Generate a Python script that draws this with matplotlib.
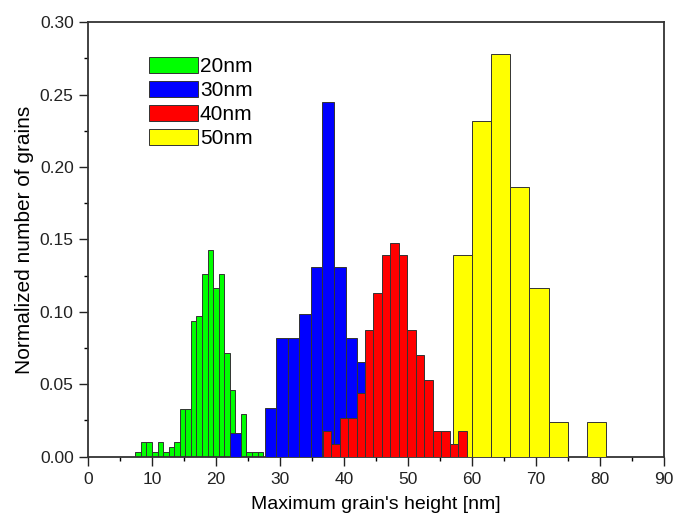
import numpy as np
import matplotlib
matplotlib.use("Agg")
import matplotlib.pyplot as plt
from matplotlib.ticker import MultipleLocator, FormatStrFormatter

plt.rcParams['font.family'] = ['Liberation Sans', 'DejaVu Sans']

# ---- data (normalized histograms) ----
green_start, green_width = 7.35, 0.869
green_vals = [0.0034, 0.0098, 0.0098, 0.0034, 0.0098, 0.0034, 0.0066, 0.0098,
              0.0327, 0.0327, 0.0939, 0.0973, 0.1260, 0.1426, 0.1163, 0.1260,
              0.0714, 0.0458, 0.0100, 0.0293, 0.0034, 0.0034, 0.0034]

blue_start, blue_width = 22.15, 1.81
blue_vals = [0.0165, 0.0, 0.0, 0.0334, 0.0820, 0.0820, 0.0982, 0.1307,
             0.2450, 0.1307, 0.0820, 0.0655]

red_start, red_width = 36.66, 1.325
red_vals = [0.0179, 0.0089, 0.0263, 0.0263, 0.0437, 0.0872, 0.1133, 0.1390,
            0.1477, 0.1390, 0.0872, 0.0700, 0.0527, 0.0179, 0.0179, 0.0089,
            0.0179]

yellow_start, yellow_width = 57.0, 3.0
yellow_vals = [0.139, 0.232, 0.278, 0.186, 0.1163, 0.0236, 0.0, 0.0236]

labels = ['20nm', '30nm', '40nm', '50nm']
colors = ['#00ff00', '#0000ff', '#ff0000', '#ffff00']

fig = plt.figure(figsize=(6.74, 5.16), dpi=100)
ax = fig.add_axes([0.131, 0.1153, 0.8537, 0.8415])

series = [
    (green_start, green_width, green_vals, 2),
    (blue_start, blue_width, blue_vals, 3),
    (red_start, red_width, red_vals, 5),
    (yellow_start, yellow_width, yellow_vals, 4),
]
handles = []
for (start, width, vals, z), lab, col in zip(series, labels, colors):
    vals = np.asarray(vals)
    lefts = start + width * np.arange(len(vals))
    mask = vals > 0
    b = ax.bar(lefts[mask], vals[mask], width=width, align='edge', color=col,
               edgecolor='#333333', linewidth=0.7, zorder=z, label=lab)
    handles.append(b)

ax.set_xlim(0, 90)
ax.set_ylim(0, 0.30)
ax.xaxis.set_major_locator(MultipleLocator(10))
ax.xaxis.set_minor_locator(MultipleLocator(5))
ax.yaxis.set_major_locator(MultipleLocator(0.05))
ax.yaxis.set_minor_locator(MultipleLocator(0.025))
ax.yaxis.set_major_formatter(FormatStrFormatter('%.2f'))
ax.tick_params(which='major', direction='out', length=6.5, width=1.0,
               labelsize=12.5, colors='#222222', pad=4)
ax.tick_params(axis='x', which='major', pad=5)
ax.tick_params(which='minor', direction='out', length=3, width=1.0)
for sp in ax.spines.values():
    sp.set_linewidth(1.3)
    sp.set_color('#333333')

ax.set_xlabel("Maximum grain's height [nm]", fontsize=14, labelpad=6)
ax.set_ylabel("Normalized number of grains", fontsize=15, labelpad=4)

ax.legend(handles=handles, labels=labels, loc='upper left',
          bbox_to_anchor=(0.105, 0.92), frameon=False, fontsize=15,
          handlelength=2.36, handleheight=0.77, handletextpad=0.1,
          labelspacing=0.24, borderpad=0, borderaxespad=0)

fig.savefig('out.png', dpi=100)
